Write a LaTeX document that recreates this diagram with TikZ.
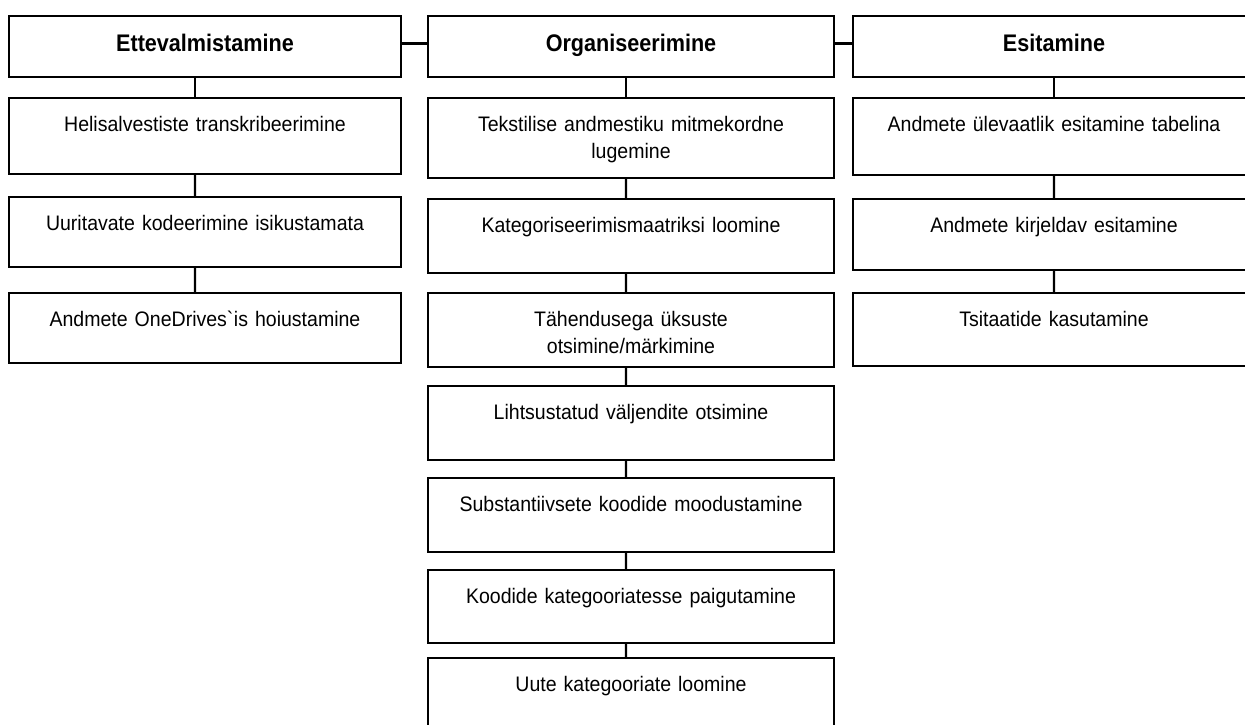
\documentclass[tikz,border=0pt]{standalone}
\usepackage{fontspec}
\setmainfont{Liberation Sans}
\begin{document}
\begin{tikzpicture}[x=1pt,y=1pt,
        every node/.style={font=\fontsize{21}{27}\selectfont\addfontfeature{FakeStretch=0.93}},
        box/.style={draw, line width=2.2pt, outer sep=0pt, inner xsep=0pt, inner ysep=0pt,
          align=center, text height=34pt, text depth=#1},
        hdr/.style={box=25pt, text height=36pt,
          font=\fontsize{24}{28}\selectfont\bfseries\addfontfeature{FakeStretch=0.9}},
        stems/.style={edge from parent path={([xshift=#1]\tikzparentnode.south)
          -- ([xshift=#1]\tikzchildnode.north)}},
        growth parent anchor=south,
        every child node/.style={anchor=north},
        edge from parent/.style={draw, line width=2.2pt}]
      \useasboundingbox (0,0) rectangle (1245,725);
      \clip (0,0) rectangle (1245,725);
      % Ettevalmistamine
      \begin{scope}[nodes={text width=392pt}, stems=-10pt]
      \node[hdr, anchor=north] (ett) at (205,709) {Ettevalmistamine}
        child[level distance=21pt] {node[box=42pt] (heli) {Helisalvestiste transkribeerimine}
          child[level distance=23pt] {node[box=36pt] (kood) {Uuritavate kodeerimine isikustamata}
            child[level distance=26pt] {node[box=36pt] (hoid) {Andmete OneDrives\textasciigrave is hoiustamine}}}};
      \end{scope}
      % Organiseerimine
      \begin{scope}[nodes={text width=406pt}, stems=-5pt]
      \node[hdr, anchor=north] (org) at (631,709) {Organiseerimine}
        child[level distance=21pt] {node[box=46pt] (luge) {Tekstilise andmestiku mitmekordne\\lugemine}
          child[level distance=21pt] {node[box=40pt] (maat) {Kategoriseerimismaatriksi loomine}
            child[level distance=20pt] {node[box=40pt] (uksus) {Tähendusega üksuste\\otsimine/märkimine}
              child[level distance=19pt] {node[box=40pt] (valj) {Lihtsustatud väljendite otsimine}
                child[level distance=18pt] {node[box=40pt] (subst) {Substantiivsete koodide moodustamine}
                  child[level distance=18pt] {node[box=39pt] (paig) {Koodide kategooriatesse paigutamine}
                    child[level distance=15pt] {node[box=40pt] (uued) {Uute kategooriate loomine}}}}}}}};
      \end{scope}
      % Esitamine
      \begin{scope}[nodes={text width=402pt}, stems=0pt]
      \node[hdr, anchor=north] (esi) at (1054,709) {Esitamine}
        child[level distance=21pt] {node[box=43pt] (tabel) {Andmete ülevaatlik esitamine tabelina}
          child[level distance=24pt] {node[box=37pt] (kirj) {Andmete kirjeldav esitamine}
            child[level distance=23pt] {node[box=39pt] (tsit) {Tsitaatide kasutamine}}}};
      \end{scope}
      \draw[line width=2.2pt] ([yshift=3pt]ett.east) -- ([yshift=3pt]org.west);
      \draw[line width=2.2pt] ([yshift=3pt]org.east) -- ([yshift=3pt]esi.west);
      \end{tikzpicture}
\end{document}
